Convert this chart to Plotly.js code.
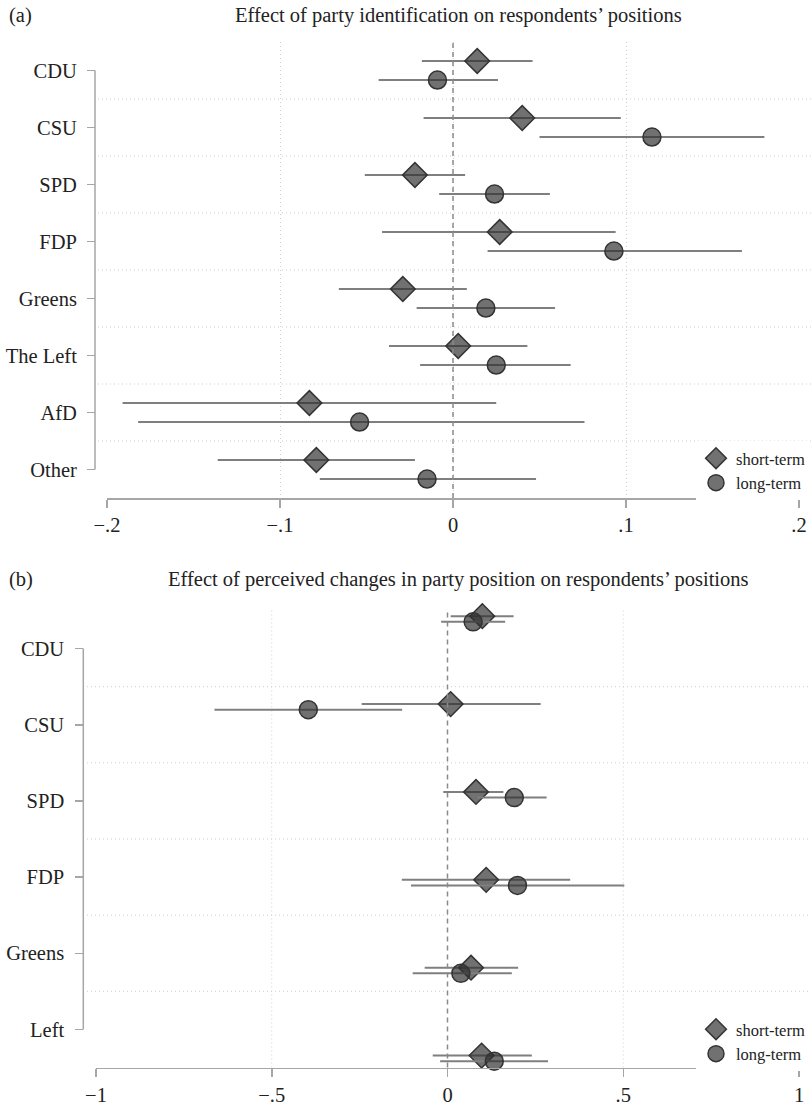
<!DOCTYPE html>
<html>
<head>
<meta charset="utf-8">
<script src="https://cdn.plot.ly/plotly-3.0.1.min.js"></script>
<style>html,body{margin:0;padding:0;background:#fff}</style>
</head>
<body>
<div id="plot" style="width:811px;height:1105px"></div>
<script>
/* global Plotly */
// (a) party identification
const partiesA = ['CDU', 'CSU', 'SPD', 'FDP', 'Greens', 'The Left', 'AfD', 'Other']
const shortA   = [0.014, 0.040, -0.022, 0.027, -0.029, 0.003, -0.083, -0.079]
const shortALo = [-0.018, -0.017, -0.051, -0.041, -0.066, -0.037, -0.191, -0.136]
const shortAHi = [0.046, 0.097, 0.007, 0.094, 0.008, 0.043, 0.025, -0.022]
const longA    = [-0.009, 0.115, 0.024, 0.093, 0.019, 0.025, -0.054, -0.015]
const longALo  = [-0.043, 0.050, -0.008, 0.020, -0.021, -0.019, -0.182, -0.077]
const longAHi  = [0.026, 0.180, 0.056, 0.167, 0.059, 0.068, 0.076, 0.048]
const ticksA   = [-0.2, -0.1, 0, 0.1, 0.2]
const tickTextA = ['\u2212.2', '\u2212.1', '0', '.1', '.2']

// (b) perceived changes in party position
const partiesB = ['CDU', 'CSU', 'SPD', 'FDP', 'Greens', 'Left']
const shortB   = [0.099, 0.009, 0.081, 0.110, 0.067, 0.097]
const shortBLo = [0.009, -0.244, -0.012, -0.130, -0.065, -0.042]
const shortBHi = [0.188, 0.265, 0.159, 0.349, 0.201, 0.240]
const longB    = [0.073, -0.396, 0.190, 0.199, 0.038, 0.133]
const longBLo  = [-0.018, -0.663, 0.085, -0.104, -0.099, -0.021]
const longBHi  = [0.164, -0.129, 0.282, 0.503, 0.183, 0.286]
const ticksB   = [-1, -0.5, 0, 0.5, 1]
const tickTextB = ['\u22121', '\u2212.5', '0', '.5', '1']

const W = 811, H = 1105
const SERIF = '"Liberation Serif", "DejaVu Serif", serif'
const FILL = 'rgba(45,45,45,0.68)'
const EDGE = '#333333'
const AXIS = '#a6a6a6'
const GRID = '#cfcfcf'
const DOTS = '1px,3px'

const px = v => v / W
const py = v => 1 - v / H

const pointTrace = (name, est, lo, hi, rows, offset, symbol, size, xaxis, yaxis, legend) => ({
    type: 'scatter',
    mode: 'markers',
    name,
    x: est,
    y: rows.map(r => r + offset),
    xaxis, yaxis, legend,
    cliponaxis: false,
    hoverinfo: 'skip',
    marker: {symbol, size, color: FILL, line: {color: EDGE, width: 1.5}},
    error_x: {
        type: 'data',
        symmetric: false,
        array: hi.map((h, i) => h - est[i]),
        arrayminus: lo.map((l, i) => est[i] - l),
        width: 0,
        thickness: 2,
        color: '#7f7f7f'
    }
})

const rowsA = partiesA.map((_, i) => i + 1)
const rowsB = partiesB.map((_, i) => i + 1)

const data = [
    pointTrace('short-term', shortA, shortALo, shortAHi, rowsA, -0.167, 'diamond', 19, 'x', 'y', 'legend'),
    pointTrace('long-term', longA, longALo, longAHi, rowsA, 0.167, 'circle', 18, 'x', 'y', 'legend'),
    {type: 'scatter', x: [], y: [], xaxis: 'x2', yaxis: 'y2', showlegend: false, hoverinfo: 'skip'},
    pointTrace('short-term', shortB, shortBLo, shortBHi, rowsB, -0.032, 'diamond', 19, 'x2', 'y3', 'legend2'),
    pointTrace('long-term', longB, longBLo, longBHi, rowsB, 0.032, 'circle', 18, 'x2', 'y3', 'legend2'),
]

const tickFont = {family: SERIF, size: 20.5, color: '#222'}

const xCommon = {
    showline: true, linecolor: AXIS, linewidth: 1.5,
    ticks: 'outside', ticklen: 8, tickwidth: 1.5, tickcolor: AXIS,
    tickfont: tickFont, zeroline: false, fixedrange: true
}
const yCommon = {
    anchor: 'free', showline: false, showgrid: false, zeroline: false,
    ticks: 'outside', ticklen: 8, tickwidth: 1.5, tickcolor: AXIS,
    tickfont: tickFont, fixedrange: true, ticklabelstandoff: 6
}

const shapes = []
// separators between categories
const addSeparators = (n, yref, left) => {
    for (let i = 1; i < n; i++) {
        shapes.push({type: 'line', layer: 'below', xref: 'paper', yref, x0: px(left), x1: 1, y0: i + 0.5, y1: i + 0.5,
            line: {color: GRID, width: 1, dash: DOTS}})
    }
}
addSeparators(partiesA.length, 'y', 98)
addSeparators(partiesB.length, 'y2', 87)
// y axis lines spanning first to last category
shapes.push({type: 'line', xref: 'paper', yref: 'y', x0: px(95), x1: px(95), y0: 1, y1: partiesA.length,
    line: {color: AXIS, width: 1.5}})
shapes.push({type: 'line', xref: 'paper', yref: 'y2', x0: px(83.3), x1: px(83.3), y0: 1, y1: partiesB.length,
    line: {color: AXIS, width: 1.5}})
// inner vertical grid for panel (b)
ticksB.slice(1, -1).forEach(v => {
    if (v !== 0) shapes.push({type: 'line', layer: 'below', xref: 'x2', yref: 'y2 domain', x0: v, x1: v, y0: 0, y1: 1,
        line: {color: GRID, width: 1, dash: DOTS}})
})
// zero reference lines
shapes.push({type: 'line', xref: 'x', yref: 'y domain', x0: 0, x1: 0, y0: 0, y1: 1,
    line: {color: '#8a8a8a', width: 1.5, dash: '5px,4px'}})
shapes.push({type: 'line', xref: 'x2', yref: 'y2 domain', x0: 0, x1: 0, y0: 0, y1: 1,
    line: {color: '#8a8a8a', width: 1.5, dash: '5px,4px'}})

const titleFont = {family: SERIF, size: 20.5, color: '#222'}
const annotations = [
    {text: '(a)', xref: 'paper', yref: 'paper', x: px(7), y: py(16), xanchor: 'left', yanchor: 'middle', showarrow: false, font: titleFont},
    {text: 'Effect of party identification on respondents\u2019 positions', xref: 'paper', yref: 'paper', x: px(458), y: py(16),
        xanchor: 'center', yanchor: 'middle', showarrow: false, font: titleFont},
    {text: '(b)', xref: 'paper', yref: 'paper', x: px(7), y: py(579), xanchor: 'left', yanchor: 'middle', showarrow: false, font: titleFont},
    {text: 'Effect of perceived changes in party position on respondents\u2019 positions', xref: 'paper', yref: 'paper', x: px(458), y: py(579),
        xanchor: 'center', yanchor: 'middle', showarrow: false, font: titleFont},
]

const legendStyle = {
    xanchor: 'left', yanchor: 'top', bgcolor: '#ffffff', borderwidth: 0,
    font: {family: SERIF, size: 16.5, color: '#222'}, itemsizing: 'trace', tracegroupgap: 0
}

const layout = {
    width: W, height: H,
    margin: {l: 0, r: 0, t: 0, b: 0},
    paper_bgcolor: '#fff', plot_bgcolor: '#fff',
    showlegend: true,
    xaxis: Object.assign({}, xCommon, {domain: [px(107), px(799)], range: [-0.2, 0.2], anchor: 'y',
        tickvals: ticksA, ticktext: tickTextA, showgrid: true, gridcolor: GRID, griddash: DOTS, gridwidth: 1}),
    yaxis: Object.assign({}, yCommon, {domain: [py(498), py(42)], range: [partiesA.length + 0.5, 0.5],
        position: px(95), tickvals: rowsA, ticktext: partiesA}),
    xaxis2: Object.assign({}, xCommon, {domain: [px(96), px(799)], range: [-1, 1], anchor: 'y2',
        tickvals: ticksB, ticktext: tickTextB, showgrid: false}),
    yaxis2: Object.assign({}, yCommon, {domain: [py(1067.5), py(610.5)], range: [partiesB.length + 0.5, 0.5],
        position: px(83.3), tickvals: rowsB, ticktext: partiesB, ticklabelstandoff: 7}),
    yaxis3: {overlaying: 'y2', anchor: 'x2', range: [6.1035, 0.9033], visible: false, fixedrange: true},
    legend: Object.assign({}, legendStyle, {x: px(696), y: py(441)}),
    legend2: Object.assign({}, legendStyle, {x: px(696), y: py(1012)}),
    shapes,
    annotations
}

Plotly.newPlot('plot', data, layout, {displayModeBar: false, staticPlot: true})
</script>
</body>
</html>
